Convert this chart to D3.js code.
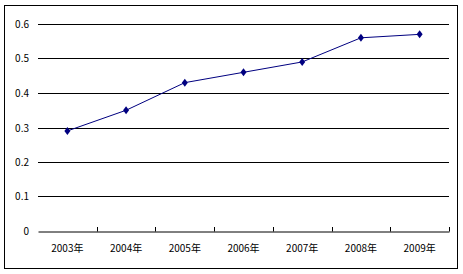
<!DOCTYPE html>
<html>
<head>
<meta charset="utf-8">
<script src="https://cdn.jsdelivr.net/npm/d3@7"></script>
<style>
  body { margin: 0; background: #fff; }
  svg text { font-family: "Noto Sans CJK SC", "DejaVu Sans", sans-serif; font-size: 10px; fill: #000; }
</style>
</head>
<body>
<svg class="grafico" width="463" height="274"></svg>
<script>
// dados
const anos    = ["2003年", "2004年", "2005年", "2006年", "2007年", "2008年", "2009年"];
const valores = [0.29, 0.35, 0.43, 0.46, 0.49, 0.56, 0.57];
const ticks_y = [0, 0.1, 0.2, 0.3, 0.4, 0.5, 0.6];

const w = 463, h = 274;
const esq = 38, dir = 449, topo = 24, base = 231;

const $svg = d3.select(".grafico");

// moldura externa
$svg.append("rect")
    .attr("x", 4.5).attr("y", 5.5)
    .attr("width", 453).attr("height", 263)
    .attr("fill", "none").attr("stroke", "#000");

const x = d3.scaleBand().domain(anos).range([esq, dir]);
const y = d3.scaleLinear().domain([0, 0.6]).range([base, topo]);

// linhas de grade
$svg.append("g")
    .selectAll("line")
    .data(ticks_y.slice(1))
    .join("line")
    .attr("x1", esq).attr("x2", dir)
    .attr("y1", d => Math.round(y(d)) + 0.5)
    .attr("y2", d => Math.round(y(d)) + 0.5)
    .attr("stroke", "#000");

// eixo y (só rótulos)
$svg.append("g")
    .selectAll("text")
    .data(ticks_y)
    .join("text")
    .attr("x", 29)
    .attr("y", d => Math.round(y(d)) + 4)
    .attr("text-anchor", "end")
    .text(d => d === 0 ? "0" : d3.format(".1f")(d));

// eixo x
const eixoX = d3.axisBottom(x).tickSize(0).tickSizeOuter(0);
const gx = $svg.append("g")
    .attr("transform", `translate(0,${base + 0.5})`)
    .call(eixoX);
gx.select(".domain").attr("stroke", "#000");
gx.selectAll("text").attr("dy", 0).attr("y", 20).style("font-size", "10px");

// marcas dos ticks (para dentro)
$svg.append("g")
    .selectAll("line")
    .data(anos.slice(1).concat(["fim"]))
    .join("line")
    .attr("x1", (d, i) => Math.round(esq + x.step() * (i + 1)) + 0.5)
    .attr("x2", (d, i) => Math.round(esq + x.step() * (i + 1)) + 0.5)
    .attr("y1", base - 4).attr("y2", base + 0.5)
    .attr("stroke", "#000");

// linha
const linha = d3.line()
    .x((d, i) => x(anos[i]) + x.bandwidth() / 2)
    .y(d => y(d));

$svg.append("path")
    .datum(valores)
    .attr("d", linha)
    .attr("fill", "none")
    .attr("stroke", "#000080")
    .attr("stroke-width", 1);

// marcadores losango
$svg.append("g")
    .selectAll("path")
    .data(valores)
    .join("path")
    .attr("transform", (d, i) => `translate(${x(anos[i]) + x.bandwidth() / 2},${y(d)})`)
    .attr("d", "M0,-4L3,0L0,4L-3,0Z")
    .attr("fill", "#000080");
</script>
</body>
</html>
